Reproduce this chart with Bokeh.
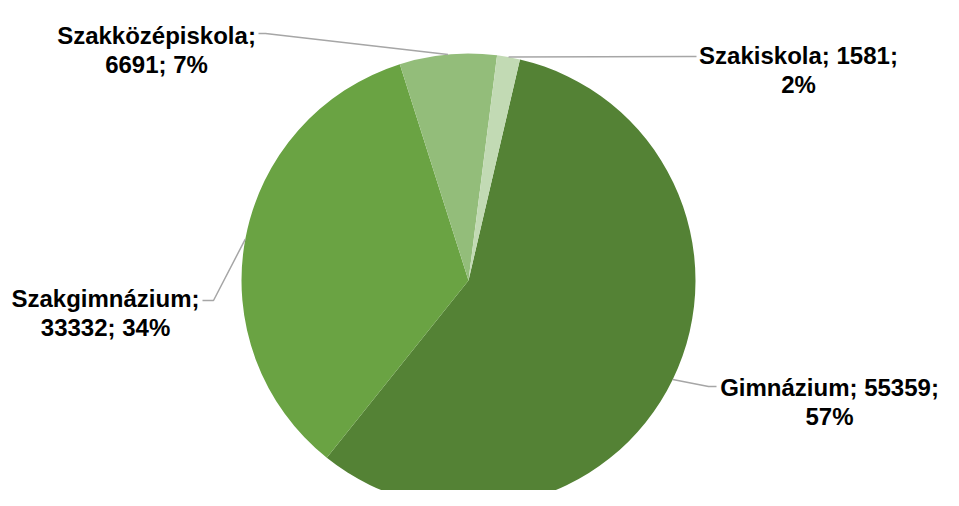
import math
from bokeh.plotting import figure
from bokeh.models import Range1d, ColumnDataSource
from bokeh.core.properties import value
from bokeh.embed import file_html
from bokeh.resources import INLINE

# ---- data ----
categories = ["Gimnázium", "Szakgimnázium", "Szakközépiskola", "Szakiskola"]
counts = [55359, 33332, 6691, 1581]
colors = ["#548235", "#6AA343", "#93BD7A", "#C2DAB4"]
first_slice_deg = 13.1  # clockwise from 12 o'clock

# ---- layout (image pixel coords; data y = 506 - image y) ----
W, H = 943, 490
CX, CY, R = 468, 280, 227
FONT_PX = 24
LINE_GAP = 28.5
# label layout: (text centre x, first baseline y), leader elbow, leader end
label_layout = {
    "Gimnázium": dict(text=(829, 387), elbow=(708, 386), end=(716, 386)),
    "Szakgimnázium": dict(text=(105, 298), elbow=(213, 300), end=(202, 300)),
    "Szakközépiskola": dict(text=(156, 35), elbow=(265, 33), end=(258, 33)),
    "Szakiskola": dict(text=(798, 55), elbow=(690, 56), end=(696, 56)),
}


def Y(img_y):
    return 506 - img_y


p = figure(width=W, height=H, output_backend="svg", toolbar_location=None,
           x_range=Range1d(0, 943), y_range=Range1d(16, 506),
           x_axis_location=None, y_axis_location=None, min_border=0)
p.grid.visible = False
p.outline_line_color = None
p.background_fill_color = "white"
p.border_fill_color = "white"

total = sum(counts)
starts, ends, mids = [], [], []
theta = first_slice_deg
for c in counts:
    span = 360.0 * c / total
    t1, t2 = theta, theta + span
    starts.append(math.radians(90 - t2))
    ends.append(math.radians(90 - t1))
    mids.append((t1 + t2) / 2)
    theta = t2

src = ColumnDataSource(dict(cat=categories, val=counts, color=colors,
                            start=starts, end=ends))
p.wedge(x=CX, y=Y(CY), radius=R, start_angle="start", end_angle="end",
        fill_color="color", line_color=None, source=src)

# leader lines
xs, ys = [], []
tx, ty, tt = [], [], []
for cat, c, m in zip(categories, counts, mids):
    ax = CX + R * math.sin(math.radians(m))
    ay = CY - R * math.cos(math.radians(m))
    lay = label_layout[cat]
    xs.append([ax, lay["elbow"][0], lay["end"][0]])
    ys.append([Y(ay), Y(lay["elbow"][1]), Y(lay["end"][1])])
    pct = round(100.0 * c / total)
    # Excel-like wrapping into two lines
    if cat in ("Gimnázium", "Szakiskola"):
        l1, l2 = f"{cat}; {c};", f"{pct}%"
    else:
        l1, l2 = f"{cat};", f"{c}; {pct}%"
    x0, y0 = lay["text"]
    tx += [x0, x0]
    ty += [Y(y0), Y(y0 + LINE_GAP)]
    tt += [l1, l2]

p.multi_line(xs=xs, ys=ys, line_color="#A6A6A6", line_width=1.5)
p.text(x=tx, y=ty, text=tt, text_align="center", text_baseline="alphabetic",
       text_font=value("Liberation Sans"), text_font_style="bold",
       text_font_size=f"{FONT_PX}px", text_color="#000000")

open("out.html", "w").write(file_html(p, INLINE))
